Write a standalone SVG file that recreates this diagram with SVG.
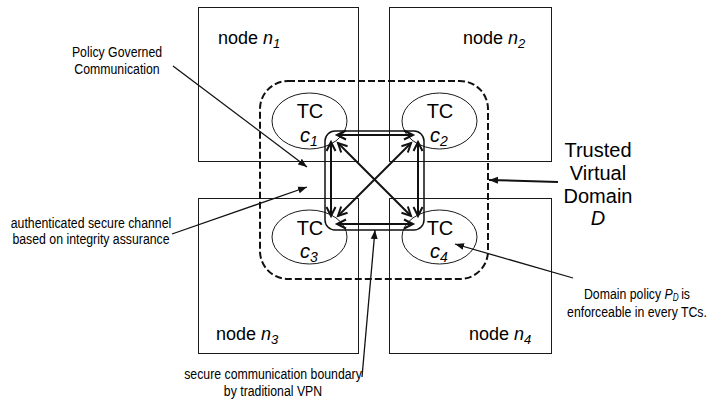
<svg xmlns="http://www.w3.org/2000/svg" width="709" height="402" viewBox="0 0 709 402">
  <defs>
    <style>
      .box { fill: #fff; stroke: #1a1a1a; stroke-width: 1; }
      .tc { fill: none; stroke: #1a1a1a; stroke-width: 1; }
      .domain { fill: none; stroke: #111; stroke-width: 2; stroke-dasharray: 7 3; }
      .vpn { fill: none; stroke: #111; stroke-width: 1.5; }
      .link { fill: none; stroke: #111; stroke-width: 2; marker-start: url(#vhead); marker-end: url(#vhead); }
      .ptr { fill: none; stroke: #111; stroke-width: 1.3; marker-end: url(#fhead); }
      .ptr2 { fill: none; stroke: #111; stroke-width: 2; marker-end: url(#fhead); }
      text { font-family: "Liberation Sans", Arial, sans-serif; fill: #000; }
      .nlabel { font-size: 18px; }
      .tclabel { font-size: 20px; }
      .note { font-size: 15px; }
      .big { font-size: 20px; }
      .it { font-style: italic; }
    </style>
    <!-- open V arrowhead for the secure channels -->
    <marker id="vhead" markerUnits="userSpaceOnUse" markerWidth="12" markerHeight="12" refX="10" refY="5" orient="auto-start-reverse" viewBox="0 0 12 10" overflow="visible">
      <path d="M1,0.5 L10,5 L1,9.5" fill="none" stroke="#111" stroke-width="2"/>
    </marker>
    <!-- small filled arrowhead for the callout pointers -->
    <marker id="fhead" markerUnits="userSpaceOnUse" markerWidth="10" markerHeight="8" refX="9" refY="3.5" orient="auto" viewBox="0 0 10 7">
      <path d="M0,0 L9,3.5 L0,7 Z" fill="#111"/>
    </marker>
  </defs>

  <!-- physical nodes -->
  <g id="node-n1">
    <rect class="box" x="198.5" y="7.5" width="160" height="154"/>
    <text class="nlabel" x="218" y="44">node <tspan class="it">n</tspan><tspan class="it" font-size="13" dy="4">1</tspan></text>
  </g>
  <g id="node-n2">
    <rect class="box" x="389.5" y="7.5" width="162" height="154"/>
    <text class="nlabel" x="463" y="44">node <tspan class="it">n</tspan><tspan class="it" font-size="13" dy="4">2</tspan></text>
  </g>
  <g id="node-n3">
    <rect class="box" x="198.5" y="198.5" width="160" height="155"/>
    <text class="nlabel" x="216" y="340">node <tspan class="it">n</tspan><tspan class="it" font-size="13" dy="4">3</tspan></text>
  </g>
  <g id="node-n4">
    <rect class="box" x="389.5" y="198.5" width="162" height="155"/>
    <text class="nlabel" x="469" y="340">node <tspan class="it">n</tspan><tspan class="it" font-size="13" dy="4">4</tspan></text>
  </g>

  <!-- trusted virtual domain boundary -->
  <g id="domain-D">
    <rect class="domain" x="260" y="81" width="228" height="198" rx="28" ry="28"/>
  </g>

  <!-- trusted components -->
  <g id="tc-c1">
    <ellipse class="tc" cx="309.5" cy="121" rx="37.5" ry="28"/>
    <text class="tclabel" x="310" y="118" text-anchor="middle">TC</text>
    <text class="tclabel" x="309" y="142" text-anchor="middle"><tspan class="it">c</tspan><tspan class="it" font-size="14" dy="4">1</tspan></text>
  </g>
  <g id="tc-c2">
    <ellipse class="tc" cx="439.5" cy="121" rx="37.5" ry="28"/>
    <text class="tclabel" x="440" y="118" text-anchor="middle">TC</text>
    <text class="tclabel" x="439" y="142" text-anchor="middle"><tspan class="it">c</tspan><tspan class="it" font-size="14" dy="4">2</tspan></text>
  </g>
  <g id="tc-c3">
    <ellipse class="tc" cx="309.5" cy="237" rx="37.5" ry="27"/>
    <text class="tclabel" x="310" y="235" text-anchor="middle">TC</text>
    <text class="tclabel" x="309" y="258" text-anchor="middle"><tspan class="it">c</tspan><tspan class="it" font-size="14" dy="4">3</tspan></text>
  </g>
  <g id="tc-c4">
    <ellipse class="tc" cx="439.5" cy="237" rx="37.5" ry="27"/>
    <text class="tclabel" x="440" y="235" text-anchor="middle">TC</text>
    <text class="tclabel" x="439" y="258" text-anchor="middle"><tspan class="it">c</tspan><tspan class="it" font-size="14" dy="4">4</tspan></text>
  </g>

  <!-- VPN boundary -->
  <g id="vpn-boundary">
    <rect class="vpn" x="325" y="131" width="99" height="99" rx="10" ry="10"/>
  </g>

  <!-- connectors -->
  <g id="connectors">
    <line class="link" x1="337" y1="135" x2="413" y2="135"/>
    <line class="link" x1="337" y1="224" x2="413" y2="224"/>
    <line class="link" x1="331" y1="142" x2="331" y2="216"/>
    <line class="link" x1="418" y1="142" x2="418" y2="216"/>
    <line class="link" x1="338" y1="143" x2="411" y2="216"/>
    <line class="link" x1="411" y1="143" x2="338" y2="216"/>

    <line class="ptr" x1="173" y1="66" x2="307" y2="167"/>
    <line class="ptr" x1="172" y1="234" x2="307" y2="187"/>
    <line class="ptr2" x1="558" y1="182" x2="489" y2="180"/>
    <line class="ptr" x1="573" y1="278" x2="455" y2="244"/>
    <line class="ptr" x1="362" y1="377" x2="375" y2="230"/>
  </g>

  <!-- callout labels -->
  <g id="label-policy" transform="translate(117,0) scale(0.82,1)">
    <text class="note" x="0" y="57" text-anchor="middle">Policy Governed</text>
    <text class="note" x="0" y="74" text-anchor="middle">Communication</text>
  </g>
  <g id="label-channel" transform="translate(91,0) scale(0.82,1)">
    <text class="note" x="0" y="228" text-anchor="middle">authenticated secure channel</text>
    <text class="note" x="0" y="244" text-anchor="middle">based on integrity assurance</text>
  </g>
  <g id="label-vpn" transform="translate(273,0) scale(0.82,1)">
    <text class="note" x="0" y="379" text-anchor="middle">secure communication boundary</text>
    <text class="note" x="0" y="396" text-anchor="middle">by traditional VPN</text>
  </g>
  <g id="label-policy-D" transform="translate(637,0) scale(0.82,1)">
    <text class="note" x="0" y="299" text-anchor="middle">Domain policy <tspan class="it">P</tspan><tspan class="it" font-size="10" dy="2">D</tspan><tspan dy="-2" dx="3">is</tspan></text>
    <text class="note" x="0" y="317" text-anchor="middle">enforceable in every TCs.</text>
  </g>
  <g id="label-domain">
    <text class="big" x="598" y="157" text-anchor="middle">Trusted</text>
    <text class="big" x="598" y="180" text-anchor="middle">Virtual</text>
    <text class="big" x="598" y="203" text-anchor="middle">Domain</text>
    <text class="big it" x="598" y="225" text-anchor="middle">D</text>
  </g>
</svg>
